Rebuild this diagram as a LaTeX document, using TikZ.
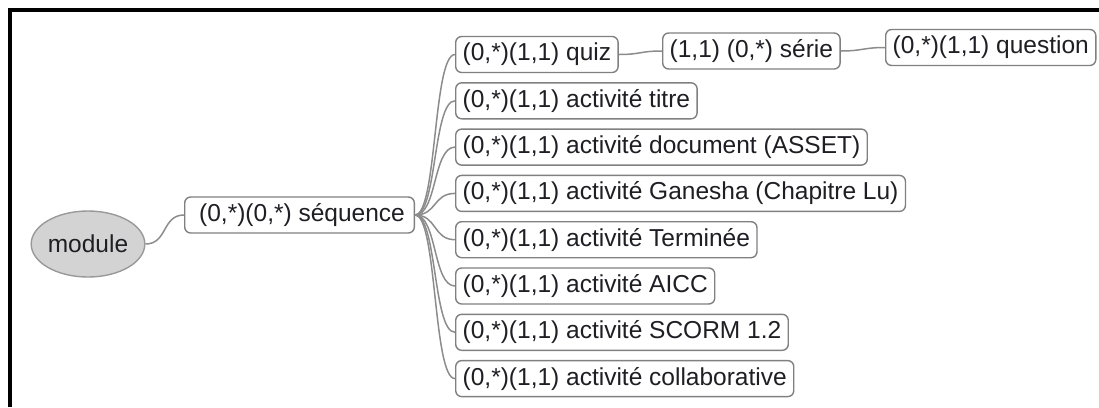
\documentclass[tikz,border=0pt]{standalone}
\usepackage{fontspec}
\setmainfont{Liberation Sans}
\usetikzlibrary{shapes.geometric}
\definecolor{boxline}{HTML}{808080}
\definecolor{linkline}{HTML}{8C8C8C}
\definecolor{modfill}{HTML}{D3D3D3}
\definecolor{txt}{HTML}{1E1E24}
\begin{document}
\begin{tikzpicture}[x=1bp,y=-1bp,
  every node/.style={font=\fontsize{24.5bp}{29bp}\selectfont, text=txt},
  box/.style={draw=boxline, line width=1.4bp, rounded corners=6bp, fill=white,
    inner xsep=7bp, inner ysep=0pt, minimum height=36bp, anchor=west},
  modnode/.style={ellipse, draw=boxline!80, line width=1.4bp, fill=modfill,
    minimum width=110bp, minimum height=66bp, inner sep=0pt},
  link/.style={draw=linkline, line width=1.5bp}]
\useasboundingbox (0,0) rectangle (1099,407);
% frame
\draw[line width=3.5bp, black] (10,407) -- (10,10) -- (1099,10);
% nodes
\node[modnode] (mod) at (88,244) {module};
\node[box, inner xsep=9.5bp] (seq) at (184,215) {\hspace*{5bp}(0,*)(0,*) séquence};
\node[box] (quiz) at (455,54.5) {(0,*)(1,1) quiz};
\node[box] (serie) at (662,51) {(1,1) (0,*) série};
\node[box] (quest) at (885,47.5) {(0,*)(1,1) question};
\node[box] (titre) at (455,100.8) {(0,*)(1,1) activité titre};
\node[box] (doc) at (455,147.1) {(0,*)(1,1) activité document (ASSET)};
\node[box] (gan) at (455,193.4) {(0,*)(1,1) activité Ganesha (Chapitre Lu)};
\node[box] (term) at (455,239.7) {(0,*)(1,1) activité Terminée};
\node[box] (aicc) at (455,286) {(0,*)(1,1) activité AICC};
\node[box] (scorm) at (455,332.3) {(0,*)(1,1) activité SCORM 1.2};
\node[box] (coll) at (455,378.6) {(0,*)(1,1) activité collaborative};
% connectors
\draw[link] (mod.east) .. controls +(22,0) and +(-22,0) .. (seq.west);
\foreach \c in {quiz,titre,doc,gan,term,aicc,scorm,coll}{
  \draw[link] (seq.east) .. controls +(22,0) and +(-22,0) .. (\c.west);
}
\draw[link] (quiz.east) .. controls +(22,0) and +(-22,0) .. (serie.west);
\draw[link] (serie.east) .. controls +(22,0) and +(-22,0) .. (quest.west);
\end{tikzpicture}
\end{document}
